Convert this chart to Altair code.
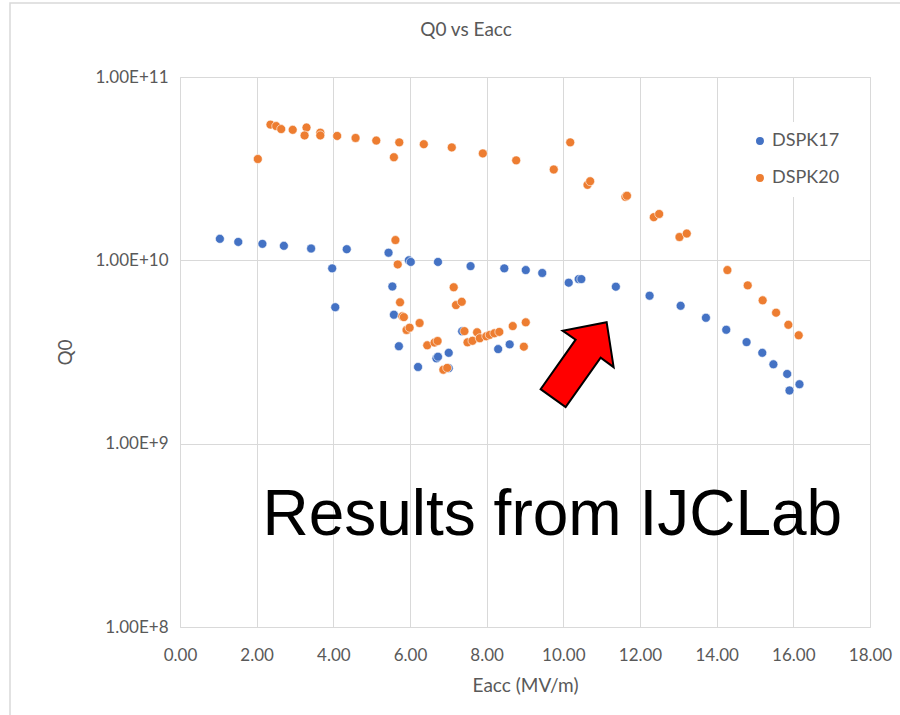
import altair as alt
import pandas as pd

# DSPK17 test: accelerating field (MV/m) and quality factor
dspk17_eacc = [1.04, 1.52, 2.15, 2.71, 3.42, 3.97, 4.05, 4.35, 5.44, 5.54,
               5.58, 5.71, 5.97, 6.02, 6.21, 6.69, 6.73, 6.73, 7.01, 7.01,
               7.36, 7.58, 8.30, 8.46, 8.60, 9.02, 9.45, 10.14, 10.40, 10.47,
               11.37, 12.25, 13.06, 13.72, 14.25, 14.78, 15.19, 15.48, 15.84,
               15.90, 16.16]
dspk17_q0 = [1.31e10, 1.26e10, 1.23e10, 1.20e10, 1.16e10, 9.04e9, 5.55e9,
             1.15e10, 1.10e10, 7.2e9, 5.05e9, 3.40e9, 1.0e10, 9.8e9, 2.62e9,
             2.92e9, 2.98e9, 9.8e9, 3.13e9, 2.58e9, 4.1e9, 9.3e9, 3.28e9,
             9.04e9, 3.48e9, 8.85e9, 8.53e9, 7.55e9, 7.9e9, 7.9e9, 7.18e9,
             6.41e9, 5.65e9, 4.86e9, 4.18e9, 3.58e9, 3.13e9, 2.71e9, 2.40e9,
             1.95e9, 2.11e9]

# DSPK20 test
dspk20_eacc = [2.03, 2.36, 2.51, 2.64, 2.94, 3.30, 3.25, 3.66, 3.66, 4.10,
               4.58, 5.12, 5.58, 5.72, 6.36, 7.09, 7.90, 8.77, 9.75, 10.18,
               10.63, 10.70, 11.62, 11.66, 12.36, 12.50, 13.03, 13.22, 14.28,
               14.81, 15.20, 15.55, 15.87, 16.14, 5.62, 5.68, 5.74, 5.80, 5.84,
               5.91, 5.99, 6.25, 6.45, 6.64, 6.72, 6.87, 6.97, 7.14, 7.20, 7.35,
               7.42, 7.50, 7.63, 7.75, 7.82, 7.99, 8.08, 8.20, 8.33, 8.68, 9.02,
               8.97]
dspk20_q0 = [3.57e10, 5.5e10, 5.4e10, 5.2e10, 5.15e10, 5.3e10, 4.8e10, 4.97e10,
             4.8e10, 4.77e10, 4.65e10, 4.5e10, 3.65e10, 4.4e10, 4.3e10, 4.13e10,
             3.83e10, 3.51e10, 3.13e10, 4.4e10, 2.58e10, 2.7e10, 2.22e10,
             2.25e10, 1.72e10, 1.79e10, 1.34e10, 1.40e10, 8.85e9, 7.3e9, 6.05e9,
             5.18e9, 4.45e9, 3.9e9, 1.29e10, 9.5e9, 5.9e9, 4.95e9, 4.9e9,
             4.17e9, 4.29e9, 4.55e9, 3.44e9, 3.56e9, 3.63e9, 2.53e9, 2.59e9,
             7.13e9, 5.7e9, 5.94e9, 4.11e9, 3.57e9, 3.64e9, 4.05e9, 3.76e9,
             3.85e9, 3.92e9, 4.0e9, 4.07e9, 4.38e9, 4.59e9, 3.38e9]

series_names = ["DSPK17", "DSPK20"]
series_colors = ["#4472C4", "#ED7D31"]

x_ticks = [0, 2, 4, 6, 8, 10, 12, 14, 16, 18]
y_ticks = [1e8, 1e9, 1e10, 1e11]

chart_title = ["Q0 vs Eacc"]

# annotation: arrow pointing at the high-field region and a caption
arrow_at = {"eacc": [10.36], "q0": [2.68e9]}
caption = {"eacc": [2.15], "q0": [3.17e8], "text": ["Results from IJCLab"]}

points = pd.DataFrame({
    "Eacc": dspk17_eacc + dspk20_eacc,
    "Q0": dspk17_q0 + dspk20_q0,
    "Cavity": ["DSPK17"] * len(dspk17_eacc) + ["DSPK20"] * len(dspk20_eacc),
})
points["order"] = range(len(points))

label_font = "Lato"
grey = "#595959"

x_scale = alt.Scale(domain=[0, 18], nice=False, zero=False)
y_scale = alt.Scale(type="log", domain=[1e8, 1e11], nice=False)

x_axis = alt.Axis(values=x_ticks, format=".2f", title="Eacc (MV/m)",
                  grid=True, gridColor="#d9d9d9", domain=False, ticks=False,
                  labelFlush=False, labelPadding=20, titlePadding=13,
                  labelFontSize=17, titleFontSize=19, labelColor=grey,
                  titleColor=grey, labelFont=label_font, titleFont=label_font,
                  titleFontWeight="normal")
y_axis = alt.Axis(values=y_ticks, labelExpr="upper(format(datum.value, '.2e'))",
                  title="Q0", grid=True, gridColor="#d9d9d9", domain=False,
                  ticks=False, labelFlush=False, labelPadding=12,
                  titlePadding=20, labelFontSize=17, titleFontSize=19,
                  labelColor=grey, titleColor=grey, labelFont=label_font,
                  titleFont=label_font, titleFontWeight="normal")

# thin outer frame around the whole chart area
frame = alt.Chart(pd.DataFrame({"k": [0]})).mark_rect(
    fill=None, stroke="#d9d9d9", strokeWidth=1.5
).encode(
    x=alt.value(-170), x2=alt.value(740),
    y=alt.value(-74), y2=alt.value(660),
)

heading = alt.Chart(pd.DataFrame({"t": chart_title})).mark_text(
    fontSize=19, font=label_font, color=grey, align="center",
    baseline="middle",
).encode(
    x=alt.value(286), y=alt.value(-47), text="t:N",
)

scatter = alt.Chart(points).mark_circle(size=80, opacity=1,
                                         stroke="white", strokeWidth=0.6).encode(
    x=alt.X("Eacc:Q", scale=x_scale, axis=x_axis),
    y=alt.Y("Q0:Q", scale=y_scale, axis=y_axis),
    color=alt.Color("Cavity:N",
                    scale=alt.Scale(domain=series_names, range=series_colors),
                    legend=alt.Legend(title=None, orient="none", legendX=561,
                                      legendY=45, padding=10,
                                      fillColor="white", symbolType="circle",
                                      symbolSize=90, labelFontSize=18,
                                      labelFont=label_font, labelColor=grey,
                                      rowPadding=19, labelOffset=3)),
    order="order:Q",
)

arrow_path = ("M0.59,-0.86 L0.73,0.04 L0.47,-0.15 L-0.23,0.84 L-0.73,0.48 "
              "L-0.03,-0.51 L-0.29,-0.69 Z")
arrow = alt.Chart(pd.DataFrame(arrow_at)).mark_point(
    shape=arrow_path, size=10000, filled=True, fill="#FF0000",
    stroke="#000000", strokeWidth=2, opacity=1, fillOpacity=1,
).encode(
    x=alt.X("eacc:Q", scale=x_scale),
    y=alt.Y("q0:Q", scale=y_scale),
)

label = alt.Chart(pd.DataFrame(caption)).mark_text(
    align="left", baseline="alphabetic", fontSize=64,
    font="Liberation Sans", color="#000000",
).encode(
    x=alt.X("eacc:Q", scale=x_scale),
    y=alt.Y("q0:Q", scale=y_scale),
    text="text:N",
)

chart = alt.layer(frame, heading, scatter, arrow, label).properties(
    width=690, height=550,
    padding={"left": 180, "top": 77, "right": 30, "bottom": 88},
    autosize="none",
).configure_view(stroke=None).configure(background="white")

chart.save("out.html", embed_options={"renderer": "svg", "actions": False})
